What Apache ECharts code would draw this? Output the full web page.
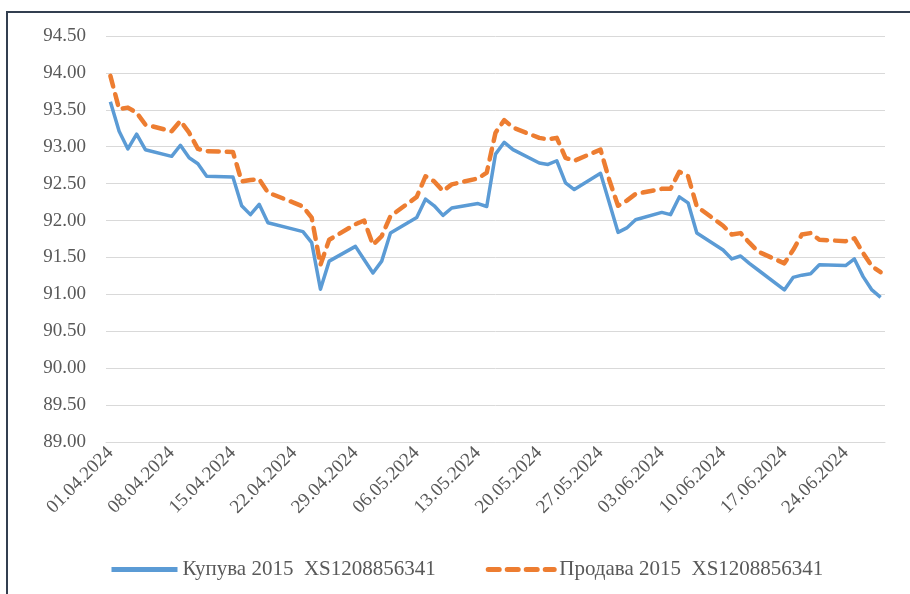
<!DOCTYPE html>
<html>
<head>
<meta charset="utf-8">
<script src="https://cdn.jsdelivr.net/npm/echarts@6/dist/echarts.min.js"></script>
<style>
    html, body { margin: 0; padding: 0; background: #fff; }
    #chart { width: 910px; height: 594px; }
</style>
</head>
<body>
<div id="chart"></div>
<script>
// работни дни
var tradeDays = [
    '01.04.2024', '02.04.2024', '03.04.2024', '04.04.2024', '05.04.2024',
    '08.04.2024', '09.04.2024', '10.04.2024', '11.04.2024', '12.04.2024',
    '15.04.2024', '16.04.2024', '17.04.2024', '18.04.2024', '19.04.2024',
    '22.04.2024', '23.04.2024', '24.04.2024', '25.04.2024', '26.04.2024',
    '29.04.2024', '30.04.2024', '01.05.2024', '02.05.2024', '03.05.2024',
    '06.05.2024', '07.05.2024', '08.05.2024', '09.05.2024', '10.05.2024',
    '13.05.2024', '14.05.2024', '15.05.2024', '16.05.2024', '17.05.2024',
    '20.05.2024', '21.05.2024', '22.05.2024', '23.05.2024', '24.05.2024',
    '27.05.2024', '28.05.2024', '29.05.2024', '30.05.2024', '31.05.2024',
    '03.06.2024', '04.06.2024', '05.06.2024', '06.06.2024', '07.06.2024',
    '10.06.2024', '11.06.2024', '12.06.2024', '13.06.2024', '14.06.2024',
    '17.06.2024', '18.06.2024', '19.06.2024', '20.06.2024', '21.06.2024',
    '24.06.2024', '25.06.2024', '26.06.2024', '27.06.2024', '28.06.2024'
];

// Купува
var buy = [
    93.61, 93.21, 92.97, 93.17, 92.96,
    92.87, 93.02, 92.85, 92.77, 92.60,
    92.59, 92.20, 92.08, 92.22, 91.97,
    91.88, 91.85, 91.70, 91.07, 91.45,
    91.65, 91.47, 91.29, 91.45, 91.83,
    92.04, 92.29, 92.20, 92.07, 92.17,
    92.23, 92.19, 92.90, 93.06, 92.96,
    92.78, 92.76, 92.81, 92.51, 92.42,
    92.64, 92.24, 91.84, 91.90, 92.01,
    92.11, 92.08, 92.32, 92.24, 91.83,
    91.60, 91.48, 91.52, 91.42, 91.33,
    91.06, 91.23, 91.26, 91.28, 91.40,
    91.39, 91.48, 91.24, 91.06, 90.96
];

// Продава
var sell = [
    93.96, 93.51, 93.53, 93.46, 93.30,
    93.21, 93.35, 93.19, 92.97, 92.94,
    92.93, 92.53, 92.55, 92.56, 92.38,
    92.24, 92.19, 92.04, 91.40, 91.74,
    91.95, 92.00, 91.67, 91.79, 92.06,
    92.32, 92.60, 92.53, 92.40, 92.49,
    92.57, 92.65, 93.19, 93.36, 93.26,
    93.12, 93.10, 93.12, 92.85, 92.81,
    92.96, 92.55, 92.20, 92.27, 92.36,
    92.43, 92.43, 92.66, 92.60, 92.19,
    91.93, 91.81, 91.83, 91.70, 91.58,
    91.42, 91.60, 91.81, 91.83, 91.74,
    91.72, 91.76, 91.56, 91.38, 91.30
];

var seriesNames = ['Купува 2015  XS1208856341', 'Продава 2015  XS1208856341'];

// календарни дни 01.04 - 28.06 (оста е по дати)
var months = [[4, 30], [5, 31], [6, 28]];
var allDays = [];
for (var m = 0; m < months.length; m++) {
    for (var d = 1; d <= months[m][1]; d++) {
        allDays.push((d < 10 ? '0' : '') + d + '.0' + months[m][0] + '.2024');
    }
}

function pairs(vals) {
    var out = [];
    for (var i = 0; i < tradeDays.length; i++) {
        out.push([tradeDays[i], vals[i]]);
    }
    return out;
}

var font = 'Liberation Serif, Times New Roman, serif';
var myChart = echarts.init(document.getElementById('chart'));

var option = {
    animation: false,
    graphic: [{
        type: 'rect',
        shape: { x: 7, y: 12, width: 1000, height: 1000 },
        style: { fill: 'none', stroke: '#333f50', lineWidth: 2 },
        silent: true
    }],
    grid: {
        left: 106,
        right: 25,
        top: 36,
        bottom: 152
    },
    legend: {
        data: seriesNames,
        left: 104,
        bottom: 9,
        itemWidth: 66,
        itemHeight: 14,
        itemGap: 50,
        itemStyle: { opacity: 0 },
        lineStyle: { width: 5 },
        textStyle: {
            color: '#595959',
            fontFamily: font,
            fontSize: 21
        }
    },
    xAxis: {
        type: 'category',
        boundaryGap: true,
        data: allDays,
        axisLine: { lineStyle: { color: '#d9d9d9', width: 1 } },
        axisTick: {
            interval: 6,
            length: 5,
            lineStyle: { color: '#d9d9d9' }
        },
        axisLabel: {
            interval: 6,
            rotate: 45,
            color: '#595959',
            fontFamily: font,
            fontSize: 19,
            margin: 8
        }
    },
    yAxis: {
        type: 'value',
        min: 89,
        max: 94.5,
        interval: 0.5,
        axisLine: { show: false },
        axisTick: { show: false },
        axisLabel: {
            color: '#595959',
            fontFamily: font,
            fontSize: 19,
            margin: 20,
            formatter: function (v) { return v.toFixed(2); }
        },
        splitLine: { lineStyle: { color: '#d9d9d9', width: 1 } }
    },
    series: [
        {
            name: seriesNames[0],
            type: 'line',
            symbol: 'none',
            data: pairs(buy),
            lineStyle: { color: '#5b9bd5', width: 3.5, join: 'round' },
            itemStyle: { color: '#5b9bd5' }
        },
        {
            name: seriesNames[1],
            type: 'line',
            symbol: 'none',
            data: pairs(sell),
            lineStyle: { color: '#ed7d31', width: 4.5, type: [11, 8], cap: 'round', join: 'round' },
            itemStyle: { color: '#ed7d31' }
        }
    ]
};

myChart.setOption(option);
</script>
</body>
</html>
